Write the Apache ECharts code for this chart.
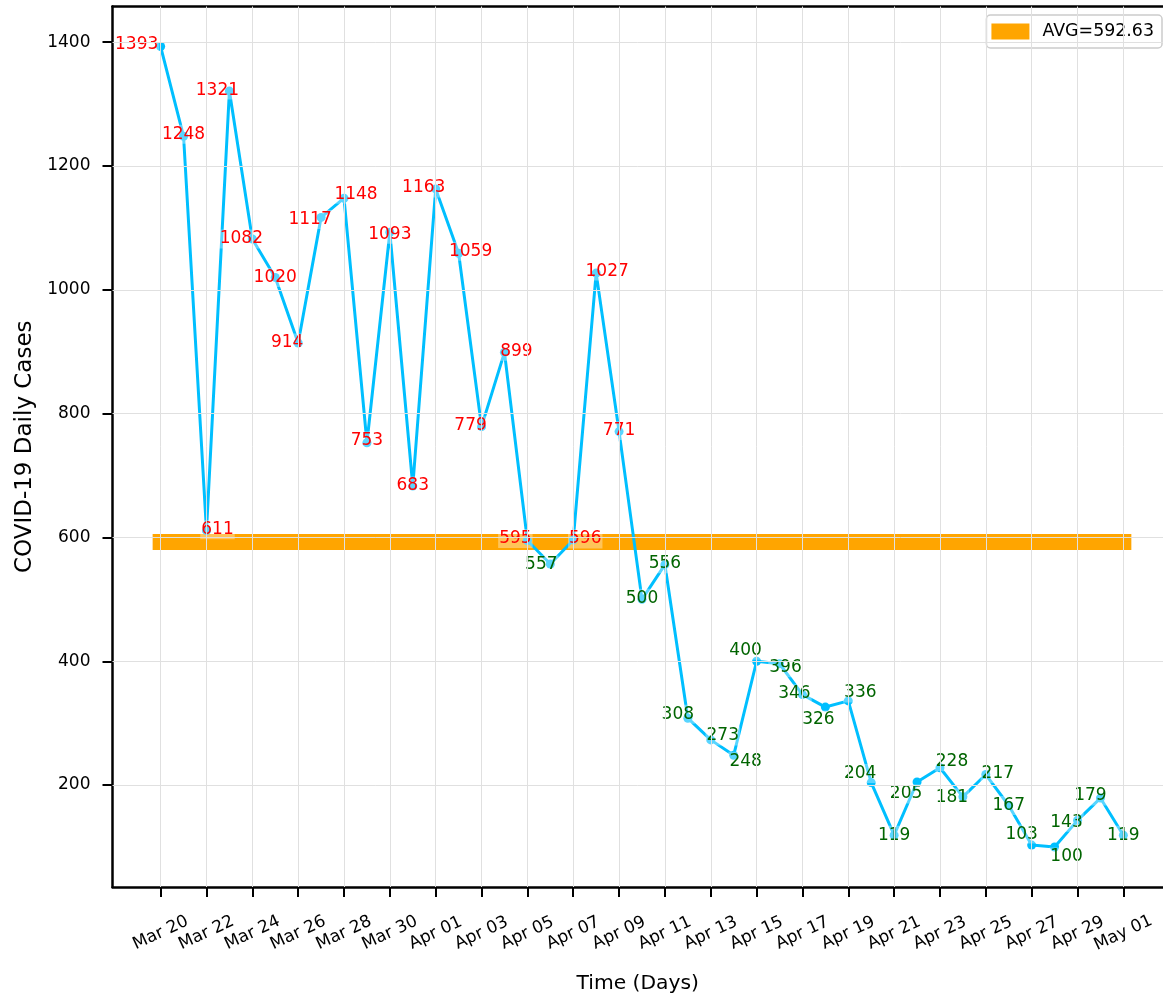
<!DOCTYPE html>
<html>
<head>
<meta charset="utf-8">
<script src="https://cdn.jsdelivr.net/npm/echarts@6/dist/echarts.min.js"></script>
<style>html,body{margin:0;padding:0;background:#fff}#c{width:1163px;height:994px}</style>
</head>
<body>
<div id="c"></div>
<script>
const dates = ['Mar 20','Mar 21','Mar 22','Mar 23','Mar 24','Mar 25','Mar 26','Mar 27','Mar 28','Mar 29','Mar 30','Mar 31',
  'Apr 01','Apr 02','Apr 03','Apr 04','Apr 05','Apr 06','Apr 07','Apr 08','Apr 09','Apr 10','Apr 11','Apr 12','Apr 13',
  'Apr 14','Apr 15','Apr 16','Apr 17','Apr 18','Apr 19','Apr 20','Apr 21','Apr 22','Apr 23','Apr 24','Apr 25','Apr 26',
  'Apr 27','Apr 28','Apr 29','Apr 30','May 01'];
const dailyCases = [1393,1248,611,1321,1082,1020,914,1117,1148,753,1093,683,1163,1059,779,899,595,557,596,1027,771,500,556,
  308,273,248,400,396,346,326,336,204,119,205,228,181,217,167,103,100,143,179,119];
const yTicks = [200,400,600,800,1000,1200,1400];
const xTickStep = 2;
// label nudges (pixels) to mimic the reference's label placement
const labelNudge = [[-24,-2],[0,-2],[11,-1],[-12,-1],[-11,0],[0,0],[-11,0],[-11,2],[12,-4],[0,-2],[0,2],[0,0],
  [-12,-1],[12,-2],[-11,-1],[12,-1],[-12,-2],[-9,1],[12,-1],[11,-2],[0,-1],[0,-1],[0,-1],[-10,-4],[12,-4],[12,6],
  [-11,-11],[6,4],[-8,-1],[-7,13],[12,-8],[-11,-9],[0,0],[-11,12],[12,-6],[-11,1],[12,-1],[0,0],[-10,-11],[12,10],
  [-11,2],[-10,-2],[0,0]];

const avg = dailyCases.reduce((a,b)=>a+b,0)/dailyCases.length;
const avgName = 'AVG=' + avg.toFixed(2);
const n = dates.length;
// the reference figure is cropped on the right, so the visible x range ends before the 5% margin
const xMin = -0.05*(n-1), xMax = (n-1) + 1.73;
const yMinV = Math.min(...dailyCases), yMaxV = Math.max(...dailyCases);
const yPad = 0.05*(yMaxV-yMinV);
const xTicks = [];
for (let i=0;i<n;i+=xTickStep) xTicks.push(i);

const font = 'DejaVu Sans';
const pointData = dailyCases.map((v,i)=>({
  value:[i,v],
  label:{ color: v > avg ? '#ff0000' : '#006400' }
}));
const lineData = dailyCases.map((v,i)=>[i,v]);

const gridLineData = xTicks.map(x=>({xAxis:x})).concat(yTicks.map(y=>({yAxis:y})));

const chart = echarts.init(document.getElementById('c'), null, {renderer:'canvas'});
chart.setOption({
  animation:false,
  backgroundColor:'#fff',
  grid:{left:112.5, top:6.5, right:0, bottom:107, show:false, outerBoundsMode:'none', containLabel:false},
  legend:{
    data:[{name:avgName, icon:'rect'}],
    right:1, top:15, orient:'horizontal',
    itemWidth:38, itemHeight:16, itemGap:10,
    padding:[8,8,8,5],
    borderColor:'#cccccc', borderWidth:1.5, borderRadius:4, backgroundColor:'rgba(255,255,255,0.85)',
    textStyle:{fontFamily:font, fontSize:17.4, color:'#000', padding:[0,0,0,8]}
  },
  xAxis:[{
    type:'value', min:xMin, max:xMax,
    name:'Time (Days)', nameLocation:'middle', nameGap:87,
    nameTextStyle:{fontFamily:font, fontSize:20.3, color:'#000'},
    axisLine:{show:true, onZero:false, lineStyle:{color:'#000', width:2.5}},
    axisTick:{show:true, length:10, lineStyle:{color:'#000', width:2}, customValues:xTicks},
    axisLabel:{customValues:xTicks, formatter:(v)=>dates[Math.round(v)]||'', rotate:25, align:'center', verticalAlign:'middle',
      margin:46, fontFamily:font, fontSize:17, color:'#000'},
    splitLine:{show:false}
  },{
    type:'value', min:xMin, max:xMax, position:'top',
    axisLine:{show:true, onZero:false, lineStyle:{color:'#000', width:2.5}},
    axisTick:{show:false}, axisLabel:{show:false}, splitLine:{show:false}
  }],
  yAxis:{
    type:'value', min:yMinV-yPad, max:yMaxV+yPad,
    name:'COVID-19 Daily Cases', nameLocation:'middle', nameGap:76,
    nameTextStyle:{fontFamily:font, fontSize:23, color:'#000'},
    axisLine:{show:true, onZero:false, lineStyle:{color:'#000', width:2.5}},
    axisTick:{show:true, length:10, lineStyle:{color:'#000', width:2}, customValues:yTicks},
    axisLabel:{customValues:yTicks, formatter:(v)=>String(v), margin:22, fontFamily:font, fontSize:17, color:'#000'},
    splitLine:{show:false}
  },
  series:[
    {
      name:'grid', type:'line', z:0, data:[], silent:true,
      markLine:{silent:true, symbol:'none', animation:false, label:{show:false},
        lineStyle:{color:'#e0e0e0', width:1, type:'solid'}, emphasis:{disabled:true},
        data:gridLineData}
    },
    {
      name:avgName, type:'line', z:1,
      data:[[0,avg],[n-1,avg]],
      symbol:'none',
      lineStyle:{color:'#ffa500', width:16, cap:'square'},
      itemStyle:{color:'#ffa500'}
    },
    {
      name:'Daily', type:'line', z:3,
      data:lineData,
      symbol:'none',
      lineStyle:{color:'#00bfff', width:3},
      itemStyle:{color:'#00bfff'}
    },
    {
      name:'DailyPoints', type:'scatter', z:4,
      data:pointData,
      symbol:'circle', symbolSize:9,
      itemStyle:{color:'#00bfff', opacity:1},
      label:{show:true, position:'inside', formatter:(p)=>String(p.value[1]),
        fontFamily:font, fontSize:17, backgroundColor:'rgba(255,255,255,0.35)', padding:[1,1]},
      labelLayout:(p)=>({dx:labelNudge[p.dataIndex][0], dy:labelNudge[p.dataIndex][1], hideOverlap:false})
    }
  ]
});
</script>
</body>
</html>
